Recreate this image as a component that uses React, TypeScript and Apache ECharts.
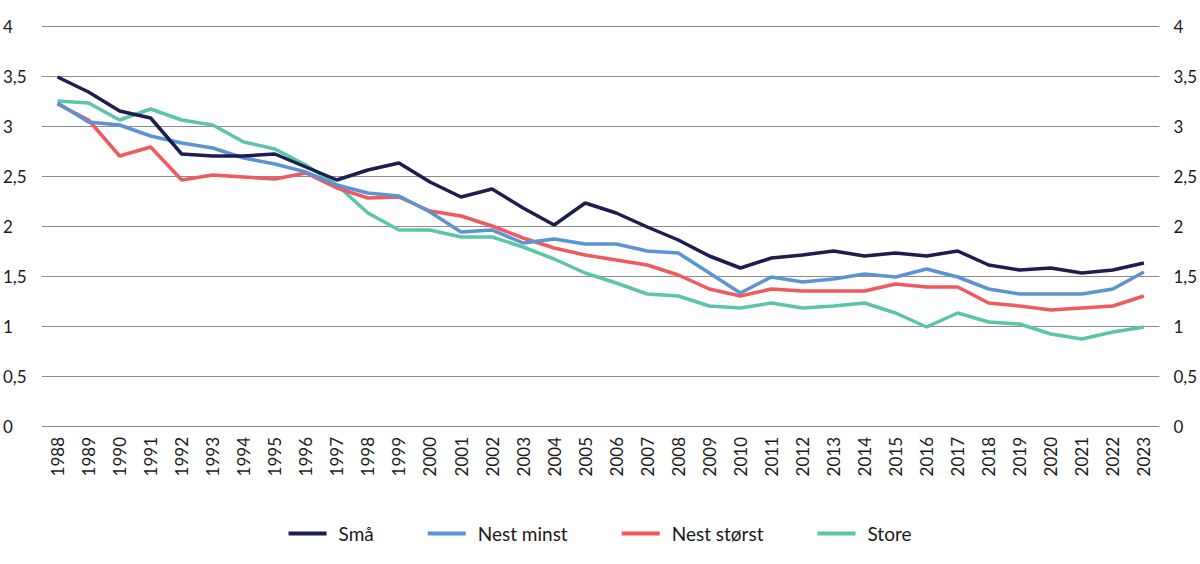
import React, { useEffect, useRef } from "react";
import * as echarts from "echarts";

const years = [
  "1988","1989","1990","1991","1992","1993","1994","1995","1996","1997","1998","1999",
  "2000","2001","2002","2003","2004","2005","2006","2007","2008","2009","2010","2011",
  "2012","2013","2014","2015","2016","2017","2018","2019","2020","2021","2022","2023",
];

const sma = [
  3.49, 3.34, 3.15, 3.08, 2.72, 2.70, 2.70, 2.72, 2.59, 2.46, 2.56, 2.63,
  2.44, 2.29, 2.37, 2.18, 2.01, 2.23, 2.13, 1.99, 1.86, 1.70, 1.58, 1.68,
  1.71, 1.75, 1.70, 1.73, 1.70, 1.75, 1.61, 1.56, 1.58, 1.53, 1.56, 1.63,
];

const nestMinst = [
  3.23, 3.04, 3.01, 2.90, 2.83, 2.78, 2.68, 2.62, 2.54, 2.41, 2.33, 2.30,
  2.14, 1.94, 1.96, 1.83, 1.87, 1.82, 1.82, 1.75, 1.73, 1.53, 1.33, 1.49,
  1.44, 1.47, 1.52, 1.49, 1.57, 1.49, 1.37, 1.32, 1.32, 1.32, 1.37, 1.54,
];

const nestStorst = [
  3.22, 3.06, 2.70, 2.79, 2.46, 2.51, 2.49, 2.47, 2.53, 2.38, 2.28, 2.29,
  2.15, 2.10, 2.00, 1.88, 1.78, 1.71, 1.66, 1.61, 1.51, 1.37, 1.30, 1.37,
  1.35, 1.35, 1.35, 1.42, 1.39, 1.39, 1.23, 1.20, 1.16, 1.18, 1.20, 1.30,
];

const store = [
  3.25, 3.23, 3.06, 3.17, 3.06, 3.01, 2.84, 2.77, 2.61, 2.41, 2.13, 1.96,
  1.96, 1.89, 1.89, 1.79, 1.67, 1.53, 1.43, 1.32, 1.30, 1.20, 1.18, 1.23,
  1.18, 1.20, 1.23, 1.13, 0.99, 1.13, 1.04, 1.02, 0.92, 0.87, 0.94, 0.99,
];

const seriesNames = ["Små", "Nest minst", "Nest størst", "Store"];
const seriesColors = ["#1c1d50", "#5b93d3", "#f0595d", "#5cc4a8"];

const FONT = "Lato, 'Open Sans', sans-serif";

export default function App() {
  const ref = useRef<HTMLDivElement>(null);

  useEffect(() => {
    document.body.style.margin = "0";
    if (!ref.current) return;
    const chart = echarts.init(ref.current, null, { renderer: "svg" });
    const fmt = (v: number) => String(v).replace(".", ",");
    const datasets = [sma, nestMinst, nestStorst, store];
    chart.setOption({
      animation: false,
      textStyle: { fontFamily: FONT },
      grid: { left: 40, right: 39, top: 26, bottom: 138, containLabel: false },
      legend: {
        bottom: 16,
        left: "center",
        icon: "rect",
        itemWidth: 38,
        itemHeight: 4,
        itemGap: 54,
        textStyle: { fontSize: 19, color: "#1a1a1a", fontFamily: FONT, padding: [0, 0, 0, 7] },
        data: seriesNames,
      },
      xAxis: {
        type: "category",
        data: years,
        boundaryGap: true,
        axisLine: { show: false },
        axisTick: { show: false },
        axisLabel: {
          rotate: 90,
          margin: 11,
          fontSize: 17,
          color: "#1a1a1a",
          fontFamily: FONT,
          interval: 0,
        },
      },
      yAxis: [
        {
          type: "value",
          min: 0,
          max: 4,
          interval: 0.5,
          position: "left",
          axisLine: { show: false },
          axisTick: { show: false },
          splitLine: { lineStyle: { color: "#8c8c8c", width: 1 } },
          axisLabel: {
            align: "left",
            margin: 39,
            fontSize: 17,
            color: "#1a1a1a",
            fontFamily: FONT,
            formatter: fmt,
          },
        },
        {
          type: "value",
          min: 0,
          max: 4,
          interval: 0.5,
          position: "right",
          axisLine: { show: false },
          axisTick: { show: false },
          splitLine: { show: false },
          axisLabel: {
            align: "left",
            margin: 14,
            fontSize: 17,
            color: "#1a1a1a",
            fontFamily: FONT,
            formatter: fmt,
          },
        },
      ],
      series: datasets.map((d, i) => ({
        name: seriesNames[i],
        type: "line",
        data: d,
        yAxisIndex: 0,
        symbol: "none",
        color: seriesColors[i],
        lineStyle: { width: 3.5, color: seriesColors[i] },
        z: 10 - i,
      })),
    });
    return () => chart.dispose();
  }, []);

  return <div ref={ref} style={{ width: 1200, height: 564 }} />;
}
